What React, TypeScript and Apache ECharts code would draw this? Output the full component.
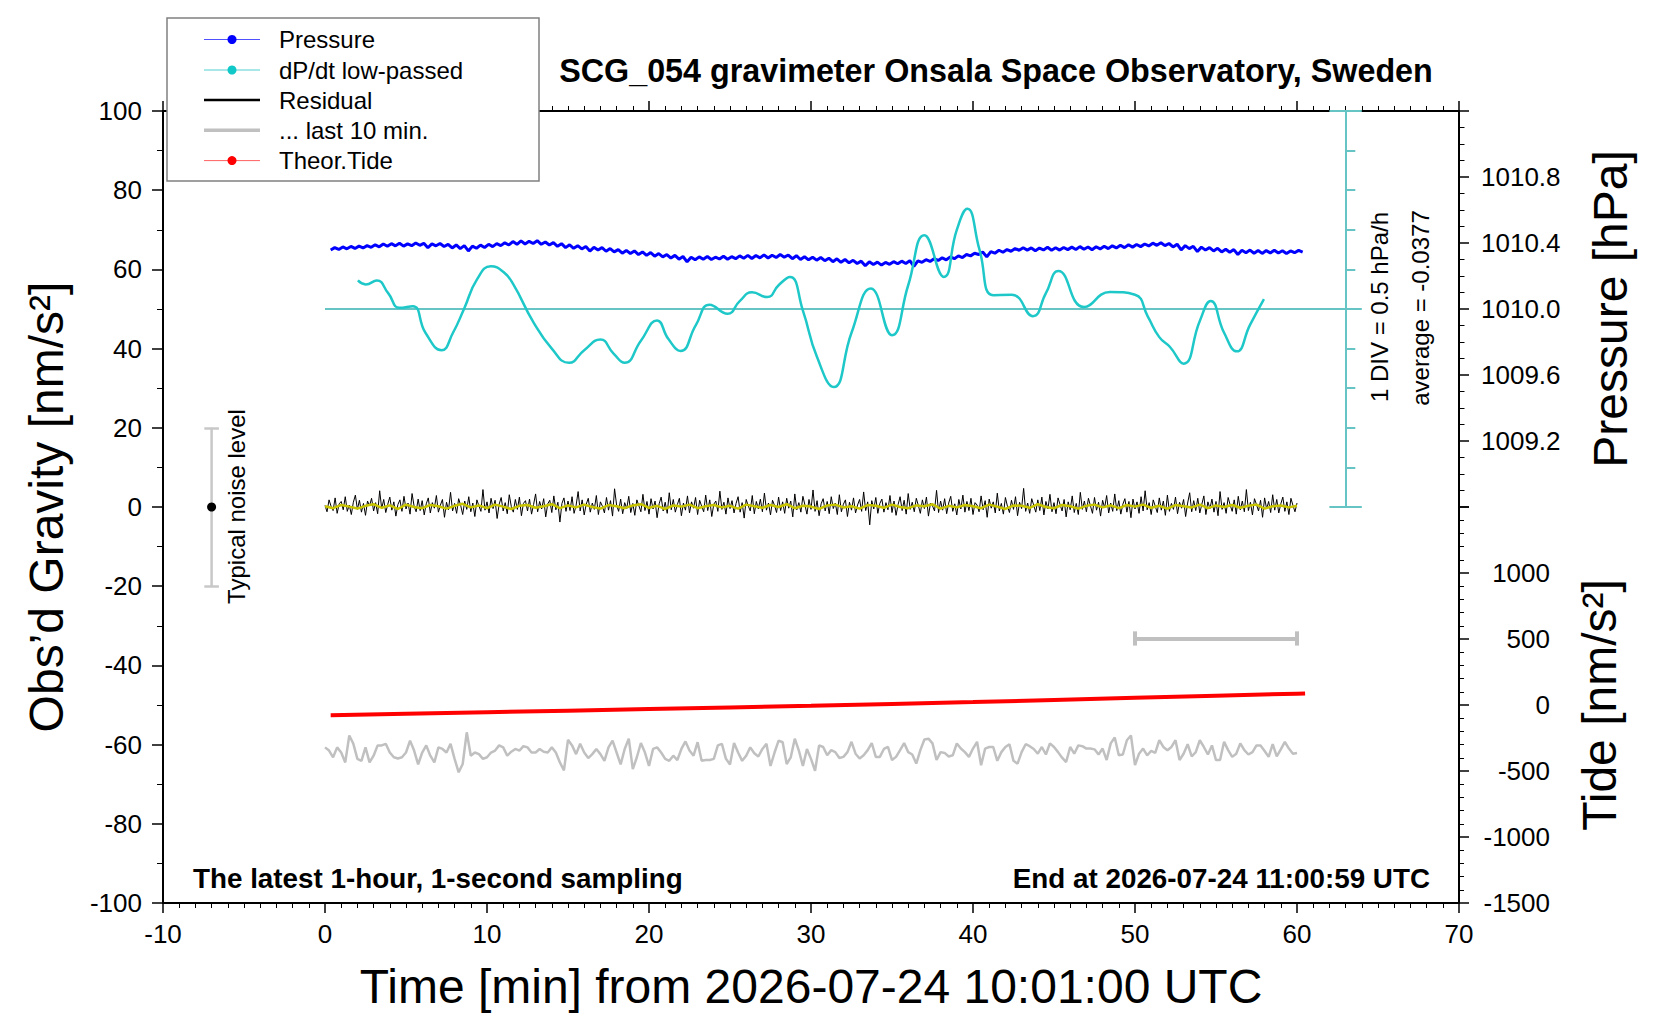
import React, { useEffect, useRef } from "react";
import * as echarts from "echarts";

const FONT = "Liberation Sans, Arial, Helvetica, sans-serif";

// sample spacing [min]
const RESID_STEP = 0.125;
const LAST10_STEP = 0.25;
const SMOOTH_STEP = 0.5;
const PRESSURE_START = 0.35;
const PRESSURE_STEP = 0.25;

// tick labels that are printed on the right-hand axes
const pressureTickLabels = ["1009.2", "1009.6", "1010.0", "1010.4", "1010.8"];
const tideTickLabels = ["-1500", "-1000", "-500", "0", "500", "1000"];

// residual gravity [nm/s2], every 7.5 s
const residualValues = [
  0.4, -1.2, 1.8, 0.2, -0.9, 2.3, -1.6, 0.8, 1.4, -0.7,
  2.6, -1.1, 0.5, -1.9, 1.2, 3.0, -0.6, 1.7, -1.3, 0.9,
  -2.1, 1.5, 0.3, 2.2, -1.0, 1.1, -1.7, 4.1, -0.4, 1.9,
  -1.4, 0.7, 2.5, -0.8, 1.3, -2.3, 0.6, 1.8, -1.1, 2.7,
  -0.5, 1.0, -1.8, 3.4, 0.2, -1.2, 2.0, -0.9, 1.6, -2.0,
  0.8, 2.3, -1.5, 1.1, -0.3, 2.9, -1.3, 0.5, 1.9, -2.6,
  1.2, -0.7, 3.7, -1.0, 0.9, -1.6, 2.1, 0.4, -1.9, 1.5,
  -0.6, 2.6, -1.2, 1.0, -2.4, 1.8, 0.3, -1.1, 4.4, -0.8,
  1.3, -1.5, 2.2, -0.4, 1.7, -2.9, 0.7, 2.4, -1.0, 1.1,
  -1.7, 3.1, 0.1, -1.3, 1.9, -0.6, 2.5, -2.2, 0.9, 1.6,
  -1.0, 2.0, -1.8, 0.6, 3.3, -1.2, 1.4, -0.5, 2.1, -2.5,
  0.8, 1.7, -1.4, 2.8, -0.7, 1.2, -3.8, 0.9, 2.3, -1.1,
  1.5, -0.9, 2.6, -1.6, 0.4, 3.9, -1.0, 1.8, -2.0, 0.7,
  2.2, -1.3, 1.0, -0.6, 2.9, -1.9, 1.3, 0.2, -1.5, 2.4,
  -0.8, 1.6, -2.3, 4.6, 0.5, -1.1, 2.0, -1.7, 1.1, -0.4,
  2.7, -1.4, 0.9, -2.1, 1.8, 0.3, -1.2, 3.2, -0.9, 1.4,
  -1.8, 2.1, -0.5, 1.5, -2.7, 0.8, 2.5, -1.0, 1.2, -1.6,
  3.6, -0.7, 1.9, -1.3, 0.6, 2.2, -2.2, 1.0, -0.8, 2.8,
  -1.5, 1.3, -0.3, 2.4, -1.9, 1.7, 0.2, -1.2, 3.0, -0.9,
  1.8, -2.4, 0.7, 1.5, -1.1, 4.0, -0.6, 1.2, -1.8, 2.3,
  -0.4, 1.6, -1.5, 0.9, 2.6, -1.3, 1.1, -2.8, 1.9, 0.3,
  -1.0, 2.9, -1.7, 1.4, -0.5, 2.0, -1.2, 3.5, -0.8, 1.0,
  -2.0, 1.7, 0.4, -1.4, 2.5, -0.9, 1.3, -1.6, 2.2, -0.3,
  1.5, -2.5, 3.3, -0.7, 1.1, -1.3, 2.7, 0.5, -1.8, 1.9,
  -0.6, 4.3, -1.1, 1.6, -2.2, 0.8, 2.1, -1.0, 1.4, -1.7,
  2.6, -0.4, 1.0, -1.9, 3.1, -1.2, 0.7, 1.8, -2.4, 1.2,
  -0.8, 2.3, -1.5, 0.5, 1.9, -1.1, 3.8, -0.9, 1.3, -4.5,
  1.6, -0.5, 2.4, -1.6, 0.9, 2.0, -1.3, 1.1, -0.7, 2.9,
  -1.4, 1.5, -2.1, 0.6, 2.6, -0.9, 1.7, -1.8, 3.4, -0.6,
  1.2, -1.2, 2.2, 0.4, -1.6, 1.8, -0.4, 2.5, -2.3, 1.0,
  0.3, -1.0, 4.2, -1.4, 1.5, -0.8, 2.1, -1.7, 1.0, 2.7,
  -1.1, 0.8, -2.0, 1.9, -0.5, 3.0, -1.3, 1.4, -0.9, 2.2,
  -1.9, 1.1, 0.5, -1.2, 2.8, -0.7, 1.6, -2.6, 2.0, -0.3,
  1.3, -1.5, 3.5, -1.0, 0.9, -1.8, 2.4, 0.2, -1.4, 1.7,
  -0.6, 2.6, -2.2, 1.2, -0.4, 4.7, -1.1, 1.0, -1.6, 2.1,
  0.4, -1.3, 1.8, -0.9, 2.5, -2.0, 1.4, -0.5, 3.2, -1.2,
  1.1, -1.7, 2.3, 0.6, -1.0, 1.9, -2.5, 1.3, -0.7, 2.8,
  -1.4, 0.9, -1.9, 3.7, -0.6, 1.5, -1.2, 2.2, 0.3, -1.6,
  2.4, -0.8, 1.2, -2.3, 1.7, -0.2, 2.9, -1.5, 1.0, -1.1,
  3.3, -0.9, 1.6, -1.8, 0.7, 2.1, -1.3, 1.4, -2.7, 2.0,
  -0.5, 1.3, -1.6, 2.6, -1.0, 4.1, -0.7, 1.1, -1.9, 1.8,
  0.2, -1.4, 2.3, -0.8, 1.5, -2.1, 3.0, -1.1, 0.9, -0.6,
  2.5, -1.7, 1.2, -0.3, 1.9, -2.4, 1.0, 3.6, -1.2, 1.6,
  -0.9, 2.2, -1.5, 0.7, 2.8, -1.9, 1.3, -0.4, 2.0, -1.3,
  1.4, -2.2, 3.9, -0.6, 1.1, -1.6, 2.4, 0.5, -1.1, 1.8,
  -1.8, 2.7, -0.7, 1.5, -1.2, 4.4, -0.9, 1.2, -2.0, 2.1,
  0.6, -1.0, 1.7, -2.6, 2.3, -0.5, 1.4, -1.4, 3.1, -0.8,
  1.9, -1.5, 0.8, 2.5, -1.1, 1.3, -1.9, 2.2, 0.4, -1.2,
  1.0,
];

// smoothed residual (yellow), every 30 s
const smoothValues = [
  0.2, -0.3, 0.5, 0.1, -0.4, 0.3, 0.7, -0.2, 0.4, -0.5,
  0.6, 0.0, -0.3, 0.5, 0.2, -0.4, 0.3, 0.8, -0.1, 0.4,
  -0.3, 0.6, 0.1, -0.5, 0.3, 0.5, -0.2, 0.2, 0.7, -0.3,
  0.4, -0.1, 0.6, 0.0, -0.4, 0.5, 0.2, -0.3, 0.4, 0.7,
  -0.2, 0.3, -0.5, 0.4, 0.1, 0.6, -0.3, 0.2, 0.5, -0.1,
  0.3, -0.4, 0.6, 0.2, -0.2, 0.5, 0.0, 0.7, -0.3, 0.3,
  0.1, -0.5, 0.4, 0.6, -0.1, 0.2, -0.4, 0.5, 0.3, -0.2,
  0.6, 0.0, -0.3, 0.4, 0.2, 0.7, -0.4, 0.3, -0.1, 0.5,
  0.2, -0.3, 0.6, 0.1, -0.5, 0.4, 0.3, -0.2, 0.7, 0.0,
  -0.3, 0.5, 0.2, -0.4, 0.3, 0.6, -0.1, 0.4, -0.3, 0.5,
  0.1, 0.6, -0.2, 0.3, -0.4, 0.5, 0.2, -0.1, 0.6, -0.3,
  0.4, 0.0, 0.5, -0.2, 0.3, 0.6, -0.4, 0.2, 0.4, -0.1,
  0.3,
];

// last 10 min of the residual, stretched over the hour (offset -62), every 15 s
const lastTenValues = [
  -60.7, -61.5, -63.2, -60.7, -62.0, -64.5, -57.7, -59.8, -63.6, -64.1,
  -60.7, -64.5, -62.8, -60.2, -60.2, -59.8, -62.0, -63.2, -63.5, -63.2,
  -62.0, -59.0, -61.5, -65.0, -62.0, -60.2, -62.8, -64.5, -60.7, -61.1,
  -62.0, -59.8, -63.6, -67.0, -64.9, -56.9, -62.8, -62.0, -62.4, -63.6,
  -63.2, -62.0, -61.5, -60.2, -60.7, -62.8, -61.8, -61.1, -61.5, -60.4,
  -60.7, -62.0, -62.0, -61.1, -61.8, -62.0, -60.7, -62.0, -64.5, -66.5,
  -58.8, -60.2, -62.4, -59.8, -62.0, -63.4, -62.4, -61.1, -62.4, -64.1,
  -60.7, -59.0, -62.0, -65.0, -61.1, -58.5, -66.2, -63.2, -59.6, -62.0,
  -65.4, -61.1, -60.7, -62.0, -63.6, -64.1, -62.8, -63.9, -61.1, -59.2,
  -61.5, -62.8, -59.4, -64.1, -63.9, -63.9, -63.6, -60.2, -59.8, -63.6,
  -65.0, -59.6, -62.0, -64.1, -62.8, -60.7, -62.2, -63.0, -61.1, -59.8,
  -65.4, -62.0, -59.0, -59.4, -64.9, -63.2, -58.5, -61.5, -65.4, -61.1,
  -63.6, -66.6, -60.2,
  -60.6, -62.7, -61.4, -61.9, -63.4, -63.1, -61.9, -59.3, -62.3, -63.5,
  -62.7, -61.4, -59.6, -63.1, -63.1, -61.1, -60.6, -63.9, -63.1, -61.4,
  -59.6, -61.9, -62.5, -64.8, -61.4, -58.7, -58.5, -59.7, -63.9, -61.9,
  -62.1, -63.0, -62.7, -59.7, -61.0, -61.9, -63.1, -61.0, -59.3, -65.2,
  -61.0, -60.6, -60.6, -64.1, -61.9, -60.6, -59.9, -64.1, -64.8, -61.9,
  -59.9, -60.4, -61.1, -62.3, -60.6, -62.5, -59.7, -60.6, -61.9, -63.3,
  -64.4, -60.6, -62.3, -60.2, -60.4, -61.0, -61.0, -61.2, -62.5, -61.0,
  -63.9, -59.7, -58.2, -62.7, -62.5, -58.9, -57.7, -65.2, -62.3, -61.0,
  -62.7, -61.6, -62.1, -58.9, -60.6, -61.4, -60.6, -58.9, -63.9, -62.3,
  -59.9, -63.0, -61.9, -58.9, -60.6, -62.5, -60.2, -63.9, -63.9, -59.3,
  -61.4, -63.1, -62.3, -59.7, -61.4, -62.5, -61.9, -60.2, -60.2, -61.6,
  -63.1, -59.9, -63.0, -61.2, -59.3, -61.0, -62.3, -62.1,
];

// air pressure [hPa], every 15 s from 0.35 min
const pressureValues = [
  1010.358, 1010.372, 1010.361, 1010.376, 1010.365, 1010.379, 1010.367, 1010.381, 1010.370, 1010.384,
  1010.374, 1010.389, 1010.377, 1010.394, 1010.380, 1010.396, 1010.383, 1010.398, 1010.381, 1010.395,
  1010.384, 1010.400, 1010.386, 1010.398, 1010.371, 1010.395, 1010.383, 1010.397, 1010.379, 1010.392,
  1010.370, 1010.388, 1010.366, 1010.384, 1010.352, 1010.381, 1010.368, 1010.387, 1010.373, 1010.392,
  1010.378, 1010.396, 1010.384, 1010.401, 1010.388, 1010.409, 1010.392, 1010.413, 1010.394, 1010.410,
  1010.397, 1010.414, 1010.392, 1010.406, 1010.388, 1010.402, 1010.380, 1010.396, 1010.372, 1010.389,
  1010.368, 1010.384, 1010.364, 1010.379, 1010.351, 1010.374, 1010.358, 1010.372, 1010.350, 1010.366,
  1010.346, 1010.360, 1010.338, 1010.355, 1010.336, 1010.352, 1010.330, 1010.346, 1010.325, 1010.342,
  1010.320, 1010.336, 1010.316, 1010.330, 1010.309, 1010.325, 1010.302, 1010.318, 1010.286, 1010.314,
  1010.298, 1010.316, 1010.301, 1010.318, 1010.300, 1010.314, 1010.303, 1010.320, 1010.302, 1010.317,
  1010.305, 1010.322, 1010.308, 1010.325, 1010.306, 1010.324, 1010.310, 1010.328, 1010.309, 1010.326,
  1010.312, 1010.330, 1010.314, 1010.327, 1010.305, 1010.323, 1010.300, 1010.317, 1010.298, 1010.314,
  1010.296, 1010.312, 1010.293, 1010.308, 1010.287, 1010.304, 1010.283, 1010.300, 1010.280, 1010.295,
  1010.276, 1010.290, 1010.262, 1010.286, 1010.270, 1010.284, 1010.266, 1010.282, 1010.271, 1010.287,
  1010.274, 1010.290, 1010.276, 1010.293, 1010.259, 1010.292, 1010.283, 1010.299, 1010.288, 1010.305,
  1010.294, 1010.310, 1010.298, 1010.316, 1010.305, 1010.322, 1010.312, 1010.330, 1010.322, 1010.338,
  1010.330, 1010.345, 1010.316, 1010.348, 1010.338, 1010.356, 1010.344, 1010.360, 1010.350, 1010.366,
  1010.356, 1010.371, 1010.357, 1010.370, 1010.353, 1010.369, 1010.358, 1010.374, 1010.356, 1010.371,
  1010.357, 1010.373, 1010.360, 1010.375, 1010.361, 1010.378, 1010.362, 1010.376, 1010.359, 1010.377,
  1010.364, 1010.380, 1010.366, 1010.383, 1010.370, 1010.386, 1010.372, 1010.389, 1010.375, 1010.391,
  1010.378, 1010.394, 1010.382, 1010.399, 1010.386, 1010.402, 1010.384, 1010.397, 1010.376, 1010.393,
  1010.358, 1010.384, 1010.366, 1010.380, 1010.348, 1010.375, 1010.357, 1010.372, 1010.352, 1010.368,
  1010.346, 1010.362, 1010.344, 1010.360, 1010.330, 1010.356, 1010.341, 1010.357, 1010.338, 1010.355,
  1010.337, 1010.354, 1010.340, 1010.356, 1010.339, 1010.353, 1010.336, 1010.352, 1010.341, 1010.355,
  1010.345,
];

// dP/dt low-passed [hPa/h]
const dpdtMinutes = [
  2.03, 2.52, 3.2, 3.9, 4.6, 5.42, 6.2, 7.2, 7.9, 8.58,
  9.4, 10.24, 11.0, 11.6, 12.86, 14.0, 15.06, 16.0, 17.0, 17.8,
  18.5, 19.5, 20.5, 21.2, 21.95, 22.9, 23.74, 24.85, 25.6, 26.36,
  27.3, 28.0, 28.7, 29.5, 30.36, 31.4, 32.5, 33.7, 35.0, 36.0,
  37.0, 38.2, 39.0, 39.65, 40.4, 41.25, 42.4, 43.7, 44.5, 45.27,
  46.85, 48.46, 50.0, 50.8, 51.5, 52.16, 53.0, 54.0, 54.67, 55.5,
  56.28, 57.1, 57.96,
];
const dpdtValues = [
  0.36, 0.31, 0.36, 0.2, 0.015, 0.035, -0.3, -0.52, -0.3, 0.0,
  0.38, 0.54, 0.47, 0.32, -0.165, -0.5, -0.68, -0.52, -0.385, -0.56,
  -0.68, -0.4, -0.145, -0.38, -0.53, -0.2, 0.055, -0.06, 0.1, 0.21,
  0.15, 0.3, 0.405, -0.02, -0.6, -0.985, -0.3, 0.26, -0.33, 0.3,
  0.93, 0.405, 1.0, 1.265, 0.75, 0.175, 0.18, -0.09, 0.2, 0.48,
  0.025, 0.215, 0.18, -0.1, -0.355, -0.48, -0.69, -0.15, 0.1, -0.3,
  -0.535, -0.2, 0.125,
];

// theoretical tide [nm/s2]
const tideMinutes = [0.35, 5, 10, 15, 20, 25, 30, 35, 40, 45, 50, 55, 60, 60.5];
const tideValues = [-78.5, -67, -55, -43, -31, -19, -6, 8, 22, 38, 54, 70, 86, 87.6];

// scale markers
const noiseMinute = -7;
const noiseLevel = 20;
const tenMinBar = [50, 60];
const tenMinLevel = -33.2;
const divMinute = 63;
const divTicks = [-2, -1.5, -1, -0.5, 0.5, 1, 1.5, 2];
const divRange = 2.5;

const legendItems = [
  { name: "Pressure", line: "#5050ff", width: 1, dot: "#0000ff" },
  { name: "dP/dt low-passed", line: "#50d0d0", width: 1, dot: "#10c8c8" },
  { name: "Residual", line: "#000000", width: 2.5, dot: null },
  { name: "... last 10 min.", line: "#c0c0c0", width: 3.5, dot: null },
  { name: "Theor.Tide", line: "#ff6060", width: 1, dot: "#ff0000" },
];

const seg = (x1: number, y1: number, x2: number, y2: number) => [
  { coord: [x1, y1] },
  { coord: [x2, y2] },
];

const App = () => {
  const chartRef = useRef<HTMLDivElement>(null);

  useEffect(() => {
    document.body.style.margin = "0";
    // @ts-ignore
    const chart = echarts.init(chartRef.current, null, { renderer: "svg" });

    const tick = { show: true, lineStyle: { color: "#000", width: 1.5 } };
    const minor = { show: true, lineStyle: { color: "#000", width: 1 } };
    const line = { show: true, onZero: false, lineStyle: { color: "#000", width: 2 } };
    const labelFont = { fontFamily: FONT, fontSize: 26, color: "#000" };
    const nameFont = { fontFamily: FONT, fontSize: 48, color: "#000" };

    const txt = (x: number, y: number, text: string, size: number, opts: any = {}) => ({
      type: "text",
      x,
      y,
      rotation: opts.rotation || 0,
      z: 100,
      silent: true,
      style: {
        text,
        fill: "#000",
        fontFamily: FONT,
        fontSize: size,
        fontWeight: opts.bold ? "bold" : "normal",
        align: opts.align || "center",
        textAlign: opts.align || "center",
        verticalAlign: "middle",
        textVerticalAlign: "middle",
      },
    });

    const legendRows = [39.5, 70, 100, 130.2, 160.6];
    const legendEls: any[] = [
      {
        type: "rect",
        z: 99,
        shape: { x: 167, y: 18, width: 372, height: 163 },
        style: { fill: "#fff", stroke: "#808080", lineWidth: 1.5 },
      },
    ];
    legendItems.forEach((it, i) => {
      const y = legendRows[i];
      legendEls.push({
        type: "line",
        z: 100,
        shape: { x1: 204, y1: y, x2: 260, y2: y },
        style: { stroke: it.line, lineWidth: it.width },
      });
      if (it.dot) {
        legendEls.push({
          type: "circle",
          z: 101,
          shape: { cx: 232, cy: y, r: 4.5 },
          style: { fill: it.dot },
        });
      }
      legendEls.push(txt(279, y, it.name, 24, { align: "left" }));
    });

    const options = {
      animation: false,
      grid: [
        { left: 163, top: 111, width: 1296, height: 792, show: true, borderColor: "#000", borderWidth: 2, outerBoundsMode: "none" },
        { left: 163, top: 111, width: 1296, height: 396, outerBoundsMode: "none" },
        { left: 163, top: 507, width: 1296, height: 396, outerBoundsMode: "none" },
      ],
      xAxis: [
        {
          gridIndex: 0, type: "value", min: -10, max: 70, interval: 10, position: "bottom",
          axisLine: line,
          axisTick: { ...tick, length: 10 },
          minorTick: { ...minor, splitNumber: 10, length: 5 },
          splitLine: { show: false },
          axisLabel: { ...labelFont, margin: 18 },
          name: "Time [min] from 2026-07-24 10:01:00 UTC",
          nameLocation: "middle",
          nameGap: 59,
          nameTextStyle: nameFont,
        },
        {
          gridIndex: 0, type: "value", min: -10, max: 70, interval: 10, position: "top",
          axisLine: line,
          axisTick: { ...tick, length: 10 },
          minorTick: { ...minor, splitNumber: 10, length: 5 },
          splitLine: { show: false },
          axisLabel: { show: false },
        },
        { gridIndex: 1, type: "value", min: -10, max: 70, show: false },
        { gridIndex: 2, type: "value", min: -10, max: 70, show: false },
      ],
      yAxis: [
        {
          gridIndex: 0, type: "value", min: -100, max: 100, interval: 20, position: "left",
          axisLine: line,
          axisTick: { ...tick, length: 11 },
          minorTick: { ...minor, splitNumber: 2, length: 6 },
          splitLine: { show: false },
          axisLabel: { ...labelFont, margin: 21 },
          name: "Obs\u2019d Gravity [nm/s\u00b2]",
          nameLocation: "middle",
          nameRotate: 90,
          nameGap: 93,
          nameTextStyle: nameFont,
        },
        {
          gridIndex: 1, type: "value", min: 1008.8, max: 1011.2, interval: 0.4, position: "right",
          axisLine: line,
          axisTick: { ...tick, length: 10 },
          minorTick: { ...minor, splitNumber: 4, length: 5.5 },
          splitLine: { show: false },
          axisLabel: {
            ...labelFont,
            margin: 22,
            formatter: (v: number) => {
              const s = v.toFixed(1);
              return pressureTickLabels.includes(s) ? s : "";
            },
          },
          name: "Pressure [hPa]",
          nameLocation: "middle",
          nameRotate: 90,
          nameGap: 127,
          nameTextStyle: nameFont,
        },
        {
          gridIndex: 2, type: "value", min: -1500, max: 1500, interval: 500, position: "right",
          axisLine: line,
          axisTick: { ...tick, length: 10 },
          minorTick: { ...minor, splitNumber: 5, length: 5 },
          splitLine: { show: false },
          axisLabel: {
            ...labelFont,
            margin: 91,
            align: "right",
            formatter: (v: number) => {
              const s = String(Math.round(v));
              return tideTickLabels.includes(s) ? s : "";
            },
          },
          name: "Tide [nm/s\u00b2]",
          nameLocation: "middle",
          nameRotate: 90,
          nameGap: 116,
          nameTextStyle: nameFont,
        },
        { gridIndex: 1, type: "value", min: -divRange, max: divRange, show: false },
      ],
      graphic: [
        txt(996, 70.5, "SCG_054 gravimeter Onsala Space Observatory, Sweden", 32.3, { bold: true }),
        txt(193, 878.5, "The latest 1-hour, 1-second sampling", 27.8, { bold: true, align: "left" }),
        txt(1430, 878.5, "End at 2026-07-24 11:00:59 UTC", 27.8, { bold: true, align: "right" }),
        txt(1379.7, 307, "1 DIV = 0.5 hPa/h", 24, { rotation: Math.PI / 2 }),
        txt(1420.5, 308, "average = -0.0377", 24, { rotation: Math.PI / 2 }),
        txt(236.7, 506.5, "Typical noise level", 24, { rotation: Math.PI / 2 }),
        ...legendEls,
      ],
      series: [
        {
          name: "... last 10 min.",
          type: "line",
          xAxisIndex: 0,
          yAxisIndex: 0,
          data: lastTenValues.map((v, i) => [i * LAST10_STEP, v]),
          showSymbol: false,
          lineStyle: { color: "#c0c0c0", width: 2.5 },
          z: 2,
          markLine: {
            silent: true,
            symbol: ["none", "none"],
            label: { show: false },
            lineStyle: { type: "solid", color: "#c0c0c0", width: 4 },
            data: [
              seg(tenMinBar[0], tenMinLevel, tenMinBar[1], tenMinLevel),
              seg(tenMinBar[0], tenMinLevel - 1.8, tenMinBar[0], tenMinLevel + 1.8),
              seg(tenMinBar[1], tenMinLevel - 1.8, tenMinBar[1], tenMinLevel + 1.8),
            ],
          },
        },
        {
          name: "Residual",
          type: "line",
          xAxisIndex: 0,
          yAxisIndex: 0,
          data: residualValues.map((v, i) => [i * RESID_STEP, v]),
          showSymbol: false,
          lineStyle: { color: "#000", width: 1 },
          z: 3,
        },
        {
          name: "Residual smoothed",
          type: "line",
          xAxisIndex: 0,
          yAxisIndex: 0,
          data: smoothValues.map((v, i) => [i * SMOOTH_STEP, v]),
          showSymbol: false,
          lineStyle: { color: "#c8c400", width: 2.5 },
          z: 4,
        },
        {
          name: "Noise level",
          type: "line",
          xAxisIndex: 0,
          yAxisIndex: 0,
          data: [
            [noiseMinute, -noiseLevel],
            [noiseMinute, noiseLevel],
          ],
          showSymbol: false,
          lineStyle: { color: "#c8c8c8", width: 2.5 },
          markLine: {
            silent: true,
            symbol: ["none", "none"],
            label: { show: false },
            lineStyle: { type: "solid", color: "#c8c8c8", width: 2.5 },
            data: [
              seg(noiseMinute - 0.45, noiseLevel, noiseMinute + 0.45, noiseLevel),
              seg(noiseMinute - 0.45, -noiseLevel, noiseMinute + 0.45, -noiseLevel),
            ],
          },
        },
        {
          name: "Noise centre",
          type: "scatter",
          xAxisIndex: 0,
          yAxisIndex: 0,
          data: [[noiseMinute, 0]],
          symbolSize: 9,
          itemStyle: { color: "#000", opacity: 1 },
          z: 5,
        },
        {
          name: "Pressure",
          type: "line",
          xAxisIndex: 2,
          yAxisIndex: 1,
          data: pressureValues.map((v, i) => [PRESSURE_START + i * PRESSURE_STEP, v]),
          showSymbol: false,
          lineStyle: { color: "#0000ff", width: 3 },
          z: 5,
        },
        {
          name: "dP/dt low-passed",
          type: "line",
          xAxisIndex: 2,
          yAxisIndex: 3,
          data: dpdtMinutes.map((t, i) => [t, dpdtValues[i]]),
          showSymbol: false,
          smooth: 0.5,
          lineStyle: { color: "#1ec8c8", width: 2.5 },
          z: 6,
          markLine: {
            silent: true,
            symbol: ["none", "none"],
            label: { show: false },
            lineStyle: { type: "solid", color: "#66c4c4", width: 2 },
            data: [
              seg(0, 0, divMinute + 1, 0),
              seg(divMinute, -divRange, divMinute, divRange),
              seg(divMinute - 1, divRange, divMinute + 1, divRange),
              seg(divMinute - 1, -divRange, divMinute + 1, -divRange),
              ...divTicks.map((v) => seg(divMinute, v, divMinute + 0.6, v)),
            ],
          },
        },
        {
          name: "Theor.Tide",
          type: "line",
          xAxisIndex: 3,
          yAxisIndex: 2,
          data: tideMinutes.map((t, i) => [t, tideValues[i]]),
          showSymbol: false,
          lineStyle: { color: "#ff0000", width: 4 },
          z: 6,
        },
      ],
    };

    // @ts-ignore
    chart.setOption(options);

    return () => {
      chart.dispose();
    };
  }, []);

  return (
    <div
      ref={chartRef}
      style={{ position: "absolute", left: 0, top: 0, width: "1660px", height: "1020px", background: "#fff" }}
    />
  );
};

export default App;
